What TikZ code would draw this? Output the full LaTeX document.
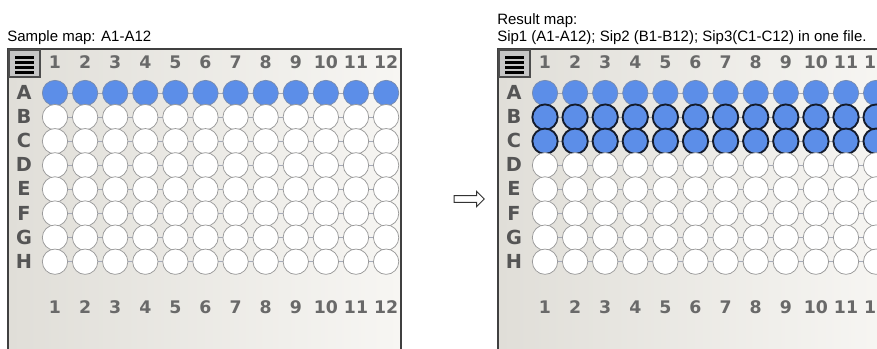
\documentclass[tikz,border=0pt]{standalone}
\usepackage{fontspec}
\setmainfont{Liberation Sans}
\newfontfamily\platefont{DejaVu Sans}
\usetikzlibrary{shapes.arrows}
\definecolor{wellblue}{RGB}{92,142,232}
\definecolor{wellrim}{RGB}{120,140,175}
\definecolor{darkrim}{RGB}{20,28,45}
\definecolor{platebg}{RGB}{224,222,216}
\definecolor{platebgl}{RGB}{247,246,243}
\definecolor{digitgray}{RGB}{105,105,105}
\definecolor{lettergray}{RGB}{85,85,85}
\definecolor{gridgray}{RGB}{165,170,185}

\tikzset{
  well/.style={circle, inner sep=0pt, minimum size=19pt, draw=gray!80, line width=0.55pt, fill=white},
  wellA/.style={well, fill=wellblue, draw=wellrim},
  wellsel/.style={well, fill=wellblue, draw=darkrim, line width=1.4pt},
  collabel/.style={anchor=base, inner sep=0pt, font=\platefont\bfseries\fontsize{13}{13}\selectfont, text=digitgray},
  rowlabel/.style={anchor=base, inner sep=0pt, font=\platefont\bfseries\fontsize{14.5}{14.5}\selectfont, text=lettergray},
  maptext/.style={anchor=base west, inner sep=0pt, font=\fontsize{11.25}{13}\selectfont},
  gridline/.style={gridgray, line width=0.6pt},
}

\begin{document}
\begin{tikzpicture}[x=0.75pt,y=-0.75pt]
  \clip (0,0) rectangle (877,349);
  % map captions
  \node[maptext] (smp) at (7,42) {Sample map: A1-A12};
  \node[maptext] (res) at (497,25) {Result map:};
  \node[maptext] (sip) at (497,42) {Sip1 (A1-A12); Sip2 (B1-B12); Sip3(C1-C12) in one file.};
  % sample plate
  \begin{scope}
    \shadedraw[left color=platebg, right color=platebgl, draw=darkgray, line width=1.5pt] (8,49) rectangle (401,360);
    \filldraw[fill=gray!45, draw=gray!60!black, line width=0.8pt] (9,50) rectangle (40,77);
    \foreach \yy in {57.5,62.5,67.5,72.5}
      \draw[line width=2pt] (15,\yy) -- (34,\yy);
    \foreach \c in {1,...,12} {
      \node[collabel] (s-top\c) at ({55+30.1*(\c-1)},68.5) {\c};
      \node[collabel] (s-bot\c) at ({55+30.1*(\c-1)},313.5) {\c};
      \draw[gridline] ({55+30.1*(\c-1)},93) -- ({55+30.1*(\c-1)},261.7);
    }
    \foreach \r/\st [count=\i] in {A/wellA,B/well,C/well,D/well,E/well,F/well,G/well,H/well} {
      \node[rowlabel] (s-\r) at (24,{99.5+24.1*(\i-1)}) {\r};
      \draw[gridline] (55,{93+24.1*(\i-1)}) -- (386.1,{93+24.1*(\i-1)});
      \foreach \c in {1,...,12}
        \node[\st] (s-\r\c) at ({55+30.1*(\c-1)},{93+24.1*(\i-1)}) {};
    }
  \end{scope}
  \node[single arrow, draw=black!80, fill=white, line width=0.7pt, minimum height=22.5pt,
    inner sep=2.2pt, single arrow head extend=3.2pt] (arw) at (467.5,199) {};
  % result plate
  \begin{scope}[shift={(490,0)}]
    \shadedraw[left color=platebg, right color=platebgl, draw=darkgray, line width=1.5pt] (8,49) rectangle (401,360);
    \filldraw[fill=gray!45, draw=gray!60!black, line width=0.8pt] (9,50) rectangle (40,77);
    \foreach \yy in {57.5,62.5,67.5,72.5}
      \draw[line width=2pt] (15,\yy) -- (34,\yy);
    \foreach \c in {1,...,12} {
      \node[collabel] (r-top\c) at ({55+30.1*(\c-1)},68.5) {\c};
      \node[collabel] (r-bot\c) at ({55+30.1*(\c-1)},313.5) {\c};
      \draw[gridline] ({55+30.1*(\c-1)},93) -- ({55+30.1*(\c-1)},261.7);
    }
    \foreach \r/\st [count=\i] in {A/wellA,B/wellsel,C/wellsel,D/well,E/well,F/well,G/well,H/well} {
      \node[rowlabel] (r-\r) at (24,{99.5+24.1*(\i-1)}) {\r};
      \draw[gridline] (55,{93+24.1*(\i-1)}) -- (386.1,{93+24.1*(\i-1)});
      \foreach \c in {1,...,12}
        \node[\st] (r-\r\c) at ({55+30.1*(\c-1)},{93+24.1*(\i-1)}) {};
    }
  \end{scope}
\end{tikzpicture}
\end{document}
